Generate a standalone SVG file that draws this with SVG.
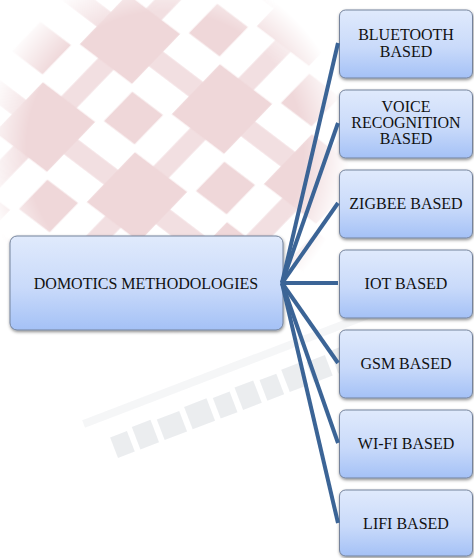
<svg xmlns="http://www.w3.org/2000/svg" width="474" height="558" viewBox="0 0 474 558">
<style>
.box{fill:url(#boxGrad);stroke:#74839c;stroke-width:1;filter:url(#shadow)}
.lbl{font-family:"Liberation Serif","Times New Roman",serif;font-size:16px;fill:#111;text-anchor:middle}
.conn{stroke:#3b6496;stroke-width:4;fill:none;stroke-linecap:butt}
.wm{fill:#e1e4e8}
</style>
<defs>
<linearGradient id="boxGrad" x1="0" y1="0" x2="0" y2="1">
<stop offset="0" stop-color="#e0eafc"/>
<stop offset="0.55" stop-color="#c9dafa"/>
<stop offset="1" stop-color="#a4c1f6"/>
</linearGradient>
<filter id="shadow" x="-10%" y="-10%" width="120%" height="130%">
<feDropShadow dx="0.5" dy="1.5" stdDeviation="1.5" flood-color="#000" flood-opacity="0.45"/>
</filter>
<pattern id="pink" patternUnits="userSpaceOnUse" width="120" height="120" patternTransform="matrix(0.708,-0.733,0.767,0.583,48.5,206)">
<g fill="#efd7d9">
<rect x="0" y="50" width="120" height="20" fill-opacity="0.8"/>
<rect x="50" y="0" width="20" height="120" fill-opacity="0.8"/>
<rect x="26" y="26" width="68" height="68"/>
<rect x="0" y="0" width="20" height="20"/>
<rect x="100" y="0" width="20" height="20"/>
<rect x="0" y="100" width="20" height="20"/>
<rect x="100" y="100" width="20" height="20"/>
</g>
</pattern>
<radialGradient id="fade" cx="165" cy="150" r="185" gradientUnits="userSpaceOnUse">
<stop offset="0" stop-color="#fff"/>
<stop offset="0.75" stop-color="#fff"/>
<stop offset="1" stop-color="#fff" stop-opacity="0"/>
</radialGradient>
<mask id="pinkMask">
<rect x="0" y="0" width="474" height="558" fill="url(#fade)"/>
</mask>
</defs>
<rect x="0" y="0" width="474" height="558" fill="#fff"/>
<g id="watermark">
<rect x="0" y="0" width="474" height="558" fill="url(#pink)" mask="url(#pinkMask)"/>
<g transform="translate(118,458) rotate(-21)" opacity="0.65">
<rect class="wm" x="0" y="-22" width="18" height="22"/>
<rect class="wm" x="24" y="-24" width="20" height="24"/>
<rect class="wm" x="50" y="-22" width="24" height="22"/>
<rect class="wm" x="80" y="-24" width="24" height="24"/>
<rect class="wm" x="110" y="-22" width="18" height="22"/>
<rect class="wm" x="134" y="-24" width="20" height="24"/>
<rect class="wm" x="160" y="-22" width="18" height="22"/>
<rect class="wm" x="184" y="-24" width="20" height="24"/>
<rect class="wm" x="210" y="-22" width="20" height="22"/>
<rect class="wm" x="236" y="-24" width="18" height="24"/>
<rect x="-20" y="-48" width="320" height="8" fill="#f1f2f4"/>
</g>
</g>
<g id="n-main"><rect class="box" x="10" y="236" width="273" height="94" rx="7"/><text class="lbl" x="146" y="288.5">DOMOTICS METHODOLOGIES</text></g>
<g id="n-bluetooth"><rect class="box" x="339.5" y="10" width="133" height="68" rx="6"/><text class="lbl" x="406" y="40">BLUETOOTH</text><text class="lbl" x="406" y="56.7">BASED</text></g>
<g id="n-voice"><rect class="box" x="339.5" y="90" width="133" height="68" rx="6"/><text class="lbl" x="406" y="112.3">VOICE</text><text class="lbl" x="406" y="128.3">RECOGNITION</text><text class="lbl" x="406" y="144.3">BASED</text></g>
<g id="n-zigbee"><rect class="box" x="339.5" y="170" width="133" height="68" rx="6"/><text class="lbl" x="406" y="208.5">ZIGBEE BASED</text></g>
<g id="n-iot"><rect class="box" x="339.5" y="250" width="133" height="68" rx="6"/><text class="lbl" x="406" y="288.5">IOT BASED</text></g>
<g id="n-gsm"><rect class="box" x="339.5" y="330" width="133" height="68" rx="6"/><text class="lbl" x="406" y="368.5">GSM BASED</text></g>
<g id="n-wifi"><rect class="box" x="339.5" y="410" width="133" height="68" rx="6"/><text class="lbl" x="406" y="448.5">WI-FI BASED</text></g>
<g id="n-lifi"><rect class="box" x="339.5" y="490" width="133" height="66" rx="6"/><text class="lbl" x="406" y="528.5">LIFI BASED</text></g>
<g id="connectors">
<line class="conn" x1="282" y1="283" x2="338" y2="43"/>
<line class="conn" x1="282" y1="283" x2="338" y2="123"/>
<line class="conn" x1="282" y1="283" x2="338" y2="203"/>
<line class="conn" x1="282" y1="283" x2="338" y2="283"/>
<line class="conn" x1="282" y1="283" x2="338" y2="363"/>
<line class="conn" x1="282" y1="283" x2="338" y2="443"/>
<line class="conn" x1="282" y1="283" x2="338" y2="523"/>
</g>
</svg>
